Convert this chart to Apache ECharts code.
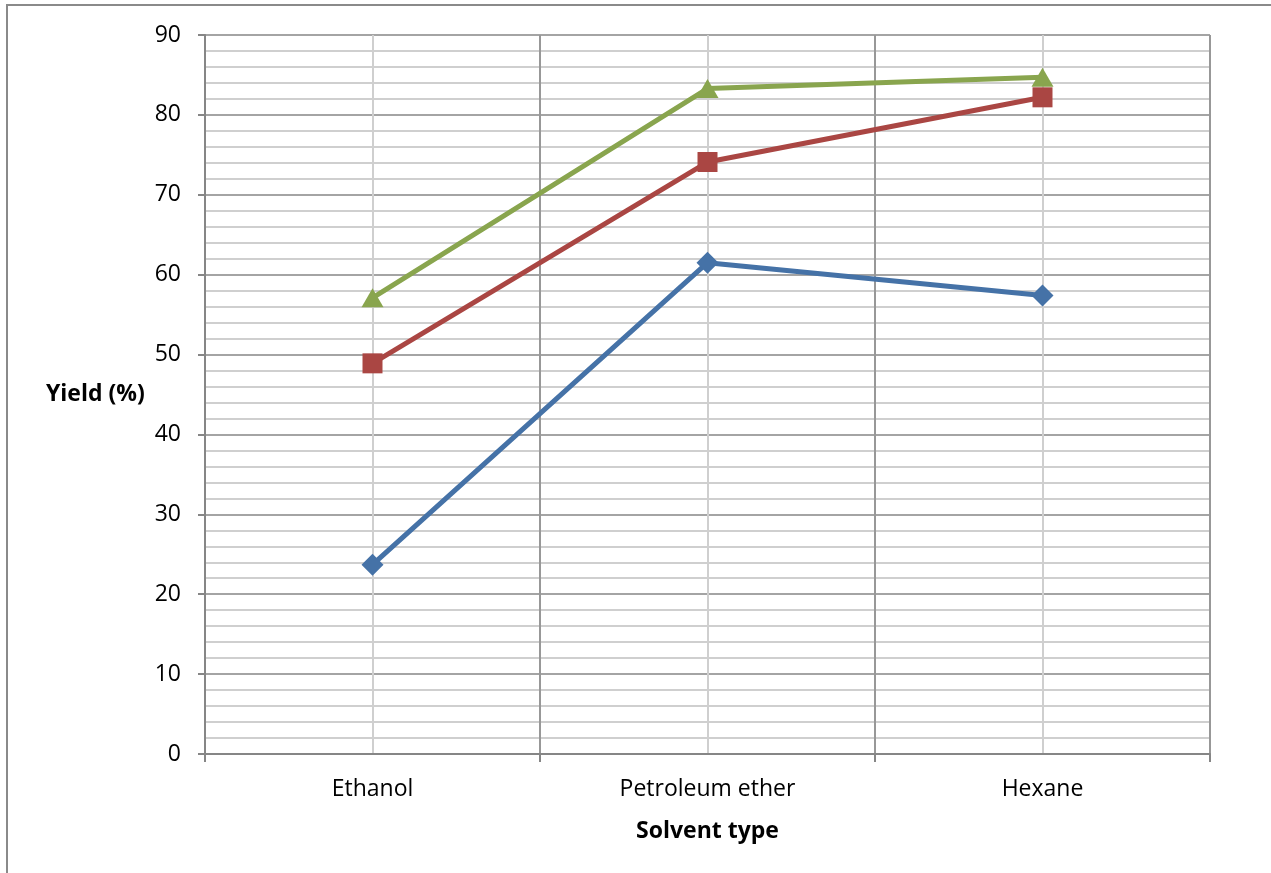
<!DOCTYPE html>
<html>
<head>
<meta charset="utf-8">
<script src="https://cdn.jsdelivr.net/npm/echarts@6/dist/echarts.min.js"></script>
<style>
  html, body { margin: 0; padding: 0; background: #fff; }
  #chart { width: 1271px; height: 873px; }
</style>
</head>
<body>
<div id="chart"></div>
<script>
// Solvent types on the x axis
const solvents = ['Ethanol', 'Petroleum ether', 'Hexane'];

// Yield (%) for each of the three runs
const seriesBlue = [23.7, 61.5, 57.4];
const seriesRed = [48.9, 74.1, 82.2];
const seriesGreen = [57.1, 83.3, 84.7];

// Y axis range
const yMin = 0;
const yMax = 90;
const yStep = 10;

const FONT = '"Open Sans", Lato, sans-serif';
const FS = 23;
const MAJOR = '#868686';
const MINOR = '#cfcfcf';

const chart = echarts.init(document.getElementById('chart'), null, { renderer: 'canvas' });

function lineSeries(name, data, color, symbol, size) {
  return {
    name: name,
    type: 'line',
    xAxisIndex: 1,
    data: data,
    symbol: symbol,
    symbolSize: size,
    showAllSymbol: true,
    lineStyle: { color: color, width: 5 },
    itemStyle: { color: color, borderWidth: 0 },
    emphasis: { disabled: true },
    z: 3
  };
}

chart.setOption({
  animation: false,
  backgroundColor: '#fff',
  textStyle: { fontFamily: FONT },
  grid: { left: 205, right: 61, top: 35, bottom: 119, containLabel: false },
  graphic: [
    {
      type: 'rect',
      shape: { x: 7, y: 5, width: 1400, height: 1000 },
      style: { fill: 'none', stroke: '#8a8a8a', lineWidth: 2 },
      silent: true,
      z: -10
    },
    {
      type: 'text',
      left: 46,
      top: 383,
      style: { text: 'Yield (%)', font: 'bold ' + FS + 'px ' + FONT, fill: '#000' }
    }
  ],
  xAxis: [
    {
      // light guide lines through each category centre
      type: 'value',
      position: 'top',
      min: 0,
      max: solvents.length * 2,
      interval: 1,
      axisLine: { show: false },
      axisTick: { show: false },
      axisLabel: { show: false },
      splitLine: { show: true, lineStyle: { color: MINOR, width: 2 } }
    },
    {
      type: 'category',
      data: solvents,
      boundaryGap: true,
      position: 'bottom',
      name: 'Solvent type',
      nameLocation: 'middle',
      nameGap: 66,
      nameTextStyle: { fontFamily: FONT, fontSize: FS, fontWeight: 'bold', color: '#000' },
      axisLine: { show: true, lineStyle: { color: MAJOR, width: 2 } },
      axisTick: { show: true, alignWithLabel: false, length: 8, lineStyle: { color: MAJOR, width: 2 } },
      axisLabel: { fontFamily: FONT, fontSize: FS, color: '#000', margin: 24 },
      splitLine: { show: true, lineStyle: { color: MAJOR, width: 1.5 } }
    }
  ],
  yAxis: {
    type: 'value',
    min: yMin,
    max: yMax,
    interval: yStep,
    axisLine: { show: true, lineStyle: { color: MAJOR, width: 2 } },
    axisTick: { show: true, length: 7, lineStyle: { color: MAJOR, width: 2 } },
    axisLabel: { fontFamily: FONT, fontSize: FS, color: '#000', margin: 24 },
    splitLine: { show: true, lineStyle: { color: MAJOR, width: 1.5 } },
    minorTick: { show: false, splitNumber: 5 },
    minorSplitLine: { show: true, lineStyle: { color: MINOR, width: 2 } }
  },
  series: [
    lineSeries('Blue', seriesBlue, '#4572A7', 'diamond', [22, 22]),
    lineSeries('Red', seriesRed, '#AA4643', 'rect', [20, 20]),
    lineSeries('Green', seriesGreen, '#89A54E', 'triangle', [22, 19])
  ]
});
</script>
</body>
</html>
